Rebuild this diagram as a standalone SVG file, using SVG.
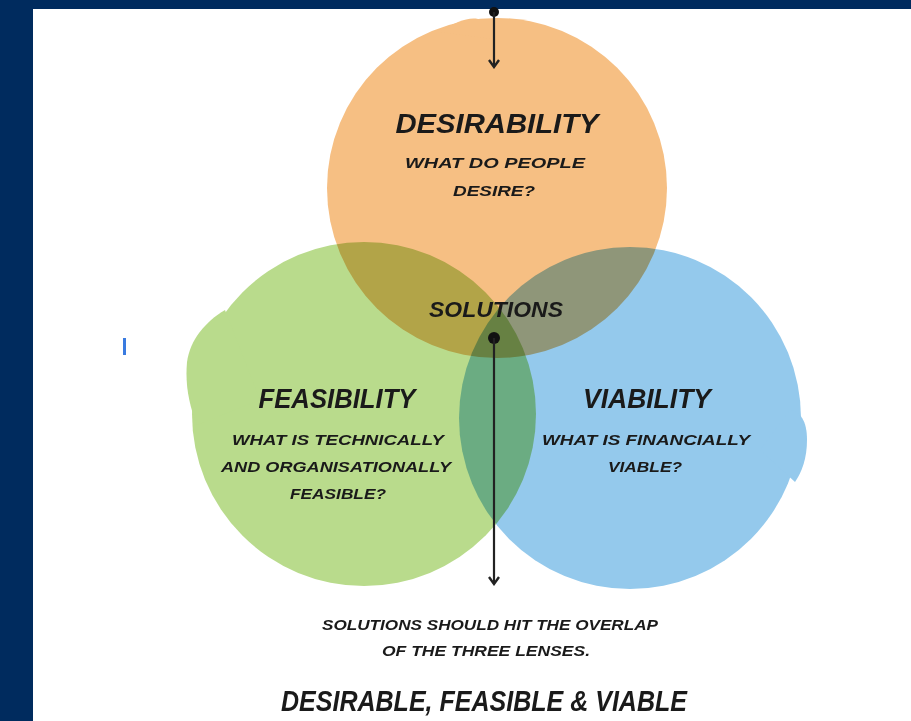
<svg xmlns="http://www.w3.org/2000/svg" width="911" height="721" viewBox="0 0 911 721">
<defs>
<style>
.t{font-family:"Liberation Sans",Arial,sans-serif;font-weight:bold;font-style:italic;fill:#1a1a1a;text-anchor:middle}
.h{font-size:27px}
.s{font-size:15px}
.c{mix-blend-mode:multiply}
</style>
<marker id="ah" viewBox="0 0 12 12" refX="10" refY="6" markerWidth="12" markerHeight="12" markerUnits="userSpaceOnUse" orient="auto">
<path d="M3,1 L10,6 L3,11" fill="none" stroke="#222" stroke-width="2.4"/>
</marker>
</defs>
<rect width="911" height="721" fill="#002b5e"/>
<rect x="33" y="9" width="878" height="712" fill="#ffffff"/>
<rect x="123" y="338" width="3" height="17" fill="#3a7be0"/>
<g id="feasibility" class="c" fill="#b9db8c">
<circle cx="364" cy="414" r="172"/>
<path d="M225,310 C205,322 190,340 187,362 C185,385 189,405 197,425 L260,400 Z"/>
</g>
<g id="viability" class="c" fill="#94c9ec">
<circle cx="630" cy="418" r="171"/>
<path d="M790,410 C800,412 807,420 807,440 C807,458 802,472 795,482 L760,450 Z"/>
</g>
<g id="desirability" class="c" fill="#f6bf83">
<circle cx="497" cy="188" r="170"/>
<path d="M440,32 C455,22 468,17 478,19 L500,40 Z"/>
</g>
<g id="labels">
<text class="t h" x="497" y="133" textLength="203" lengthAdjust="spacingAndGlyphs">DESIRABILITY</text>
<text class="t s" x="495" y="168" textLength="180" lengthAdjust="spacingAndGlyphs">WHAT DO PEOPLE</text>
<text class="t s" x="494" y="196" textLength="82" lengthAdjust="spacingAndGlyphs">DESIRE?</text>
<text class="t" style="font-size:22px" x="496" y="317" textLength="134" lengthAdjust="spacingAndGlyphs">SOLUTIONS</text>
<text class="t h" x="337" y="408" textLength="157" lengthAdjust="spacingAndGlyphs">FEASIBILITY</text>
<text class="t s" x="338" y="445" textLength="212" lengthAdjust="spacingAndGlyphs">WHAT IS TECHNICALLY</text>
<text class="t s" x="336" y="472" textLength="230" lengthAdjust="spacingAndGlyphs">AND ORGANISATIONALLY</text>
<text class="t s" x="338" y="499" textLength="96" lengthAdjust="spacingAndGlyphs">FEASIBLE?</text>
<text class="t h" x="647" y="408" textLength="128" lengthAdjust="spacingAndGlyphs">VIABILITY</text>
<text class="t s" x="646" y="445" textLength="208" lengthAdjust="spacingAndGlyphs">WHAT IS FINANCIALLY</text>
<text class="t s" x="645" y="472" textLength="74" lengthAdjust="spacingAndGlyphs">VIABLE?</text>
<text class="t s" x="490" y="630" textLength="336" lengthAdjust="spacingAndGlyphs">SOLUTIONS SHOULD HIT THE OVERLAP</text>
<text class="t s" x="486" y="656" textLength="208" lengthAdjust="spacingAndGlyphs">OF THE THREE LENSES.</text>
<text class="t" style="font-size:29px" x="484" y="711" textLength="406" lengthAdjust="spacingAndGlyphs">DESIRABLE, FEASIBLE &amp; VIABLE</text>
</g>
<g id="connectors" stroke="#222" stroke-width="2.2" fill="none">
<circle cx="494" cy="12" r="5" fill="#111" stroke="none"/>
<line x1="494" y1="12" x2="494" y2="67" marker-end="url(#ah)"/>
<circle cx="494" cy="338" r="6" fill="#111" stroke="none"/>
<line x1="494" y1="338" x2="494" y2="584" marker-end="url(#ah)"/>
</g>
</svg>
